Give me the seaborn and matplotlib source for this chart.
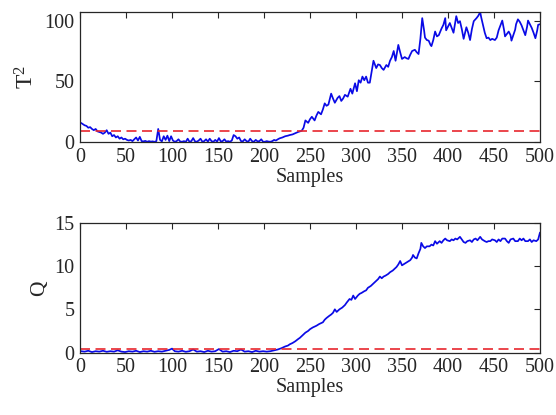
import matplotlib
matplotlib.use("Agg")
import matplotlib.pyplot as plt
import seaborn as sns
import pandas as pd

# ---------------- data ----------------
t2_samples = [1, 3, 5, 7, 9, 11, 13, 15, 17, 19, 21, 23, 25, 27, 29, 31, 33, 35, 37, 39,
              41, 43, 45, 47, 49, 51, 53, 55, 57, 59, 61, 63, 65, 67, 69, 71, 73, 75, 77, 79,
              81, 83, 85, 87, 89, 91, 93, 95, 97, 99, 101, 103, 105, 107, 109, 111, 113, 115, 117, 119,
              121, 123, 125, 127, 129, 131, 133, 135, 137, 139, 141, 143, 145, 147, 149, 151, 153, 155, 157, 159,
              161, 163, 165, 167, 169, 171, 173, 175, 177, 179, 181, 183, 185, 187, 189, 191, 193, 195, 197, 199,
              201, 203, 205, 207, 209, 211, 213, 215,
              217, 220, 223, 226, 228, 231, 234, 237, 241, 243, 245, 248, 250, 252, 255, 257, 259, 262, 264, 266,
              268, 270, 273, 275, 277, 280, 282, 284, 286, 288, 291, 294, 296, 299, 301, 303, 305, 307, 309, 311,
              313, 315, 317, 319, 322, 324, 326, 328, 330, 333, 335, 337, 339, 341, 343, 346, 348, 350, 353, 355,
              357, 359, 361, 364, 366, 368, 370, 372, 374, 375, 377, 379, 381, 382, 384, 386, 388, 390, 393, 395,
              397, 398, 400, 402, 404, 406, 409, 411, 413, 415, 417, 420, 422, 424, 426, 428, 431, 433, 435, 436,
              438, 440, 442, 444, 446, 448, 451, 453, 455, 457, 459, 461, 462, 464, 466, 468, 469, 471, 473, 474,
              476, 478, 480, 482, 484, 486, 487, 489, 491, 493, 495, 497, 498, 500]
t2_values = [16, 15, 14, 13.5, 12, 12.5, 11, 10, 11, 9, 8.5, 8, 7, 8, 10, 7, 8, 5, 6, 4,
             5, 3, 4, 2.5, 3, 2, 1.5, 2, 1, 2.5, 4, 1.5, 4.5, 1, 0.8, 1.2, 0.5, 1, 0.6, 0.8,
             0.4, 1, 11, 2, 0.8, 5, 2, 5.5, 1, 5, 1.5, 0.5, 1, 2.5, 0.6, 0.5, 1, 0.4, 3, 0.5,
             1, 3.5, 0.8, 0.5, 1.5, 3, 0.5, 1, 2.5, 0.6, 3, 1, 0.5, 2, 0.6, 3.5, 0.8, 1, 2.5, 0.6,
             1, 0.5, 1.5, 6, 5, 3, 4, 1, 0.8, 2.5, 1, 0.6, 3, 1, 0.5, 2, 0.8, 1, 2.5, 0.5,
             0.5, 1, 0.6, 0.5, 1, 2, 1.5, 2.5,
             3.3, 4, 5, 5.5, 6, 6.5, 7.5, 8.5, 9.5, 12, 18, 16, 19, 21, 18, 22, 25, 23, 27, 32,
             30, 31, 40, 36, 32.5, 36.5, 38, 34, 36, 39, 37.5, 44, 40, 48.5, 42, 51, 49, 54, 51, 54,
             49, 49, 58, 67, 61, 64, 63.5, 61, 59.5, 63.5, 62, 67, 70, 75, 67, 80, 74, 68.5, 70, 69,
             68.5, 72, 75, 76, 74, 72.5, 85, 102, 92, 86, 84, 83.5, 80, 79, 84, 91, 87, 88, 93.5, 96.5,
             102, 92, 95, 98, 94, 90, 103.6, 98, 99.5, 93, 85, 94.5, 90, 84, 93, 99.5, 102, 104, 107, 103,
             96.5, 90, 85.5, 86, 84, 85, 84, 86, 92, 96, 100, 92, 87, 89, 91, 88, 83.5, 88, 92.5, 97,
             101, 99, 96, 92, 88, 95, 100, 97, 94, 90, 85.5, 92, 96.5, 97]
t2_limit = 9.3

q_samples = [1, 5, 9, 13, 17, 21, 25, 29, 33, 37, 41, 45, 49, 53, 57, 61, 65, 69, 73, 77,
             81, 85, 89, 93, 97, 100, 103, 107, 111, 115, 119, 123, 127, 131, 135, 139, 143, 147, 151, 155,
             159, 163, 167, 171, 175, 179, 183, 187, 191, 195, 199, 203, 207, 211, 215, 219, 223, 226, 228, 231,
             234, 237, 239, 242, 245, 248, 250, 253, 255, 257, 260, 262, 264, 266, 268, 271, 273, 275, 277, 279,
             282, 285, 288, 290, 293, 295, 297, 299, 302, 304, 306, 309, 311, 313, 316, 319, 321, 324, 326, 328,
             330, 332, 335, 337, 340, 342, 344, 346, 348, 350, 353, 356, 359, 361, 362, 364, 366, 368, 370, 371,
             373, 375, 377, 380, 382, 384, 386, 388, 391, 393, 395, 397, 399, 402, 404, 406, 408, 410, 413, 415,
             417, 419, 421, 424, 426, 428, 430, 432, 435, 437, 440, 442, 444, 446, 448, 451, 453, 455, 457, 459,
             462, 464, 466, 468, 471, 473, 476, 478, 480, 482, 484, 487, 489, 491, 493, 496, 498, 500]
q_values = [0.15, 0.1, 0.2, 0.05, 0.15, 0.1, 0.2, 0.08, 0.15, 0.1, 0.25, 0.1, 0.05, 0.15, 0.1, 0.2, 0.05, 0.15, 0.1, 0.2,
            0.08, 0.15, 0.1, 0.2, 0.3, 0.45, 0.15, 0.1, 0.2, 0.08, 0.15, 0.35, 0.1, 0.15, 0.05, 0.2, 0.1, 0.15, 0.4, 0.1,
            0.15, 0.05, 0.2, 0.15, 0.35, 0.1, 0.15, 0.05, 0.2, 0.1, 0.15, 0.1, 0.15, 0.25, 0.35, 0.5, 0.7, 0.8, 0.95, 1.1,
            1.3, 1.55, 1.7, 2.0, 2.3, 2.5, 2.7, 2.9, 3.0, 3.1, 3.3, 3.4, 3.5, 3.8, 4.0, 4.25, 4.4, 4.6, 5.0, 4.7,
            5.0, 5.2, 5.5, 5.8, 6.2, 6.1, 6.6, 6.2, 6.6, 6.8, 6.9, 7.1, 7.2, 7.5, 7.7, 8.0, 8.2, 8.5, 8.8, 8.6,
            8.8, 8.9, 9.1, 9.3, 9.5, 9.7, 9.9, 10.2, 10.6, 10.1, 10.3, 10.5, 10.7, 11.0, 11.3, 11.0, 10.9, 11.5, 12.0, 12.7,
            12.3, 12.1, 12.3, 12.3, 12.5, 12.4, 12.9, 12.6, 12.9, 12.7, 13.0, 13.2, 13.0, 12.9, 13.1, 13.0, 13.2, 13.1, 13.4, 13.1,
            12.8, 12.7, 12.9, 13.0, 12.8, 13.1, 13.2, 13.0, 13.4, 13.1, 12.9, 12.8, 12.9, 12.9, 13.1, 13.0, 12.8, 13.1, 12.9, 13.2,
            13.2, 12.9, 12.7, 13.1, 13.2, 12.9, 12.9, 13.2, 13.0, 13.2, 12.9, 12.9, 13.1, 12.8, 13.0, 12.9, 13.1, 13.9]
q_limit = 0.35

x_ticks = [0, 50, 100, 150, 200, 250, 300, 350, 400, 450, 500]
t2_ticks = [0, 50, 100]
q_ticks = [0, 5, 10, 15]

# ---------------- style ----------------
sns.set_theme(style="white")
plt.rcParams['font.family'] = ['Liberation Serif', 'DejaVu Serif']
plt.rcParams['mathtext.fontset'] = 'custom'
plt.rcParams['mathtext.rm'] = 'Liberation Serif'
plt.rcParams['mathtext.it'] = 'Liberation Serif'
plt.rcParams['mathtext.default'] = 'regular'

FS = 14.5
EDGE = '#262626'
BLUE = '#0a0ae6'
RED = '#e8262e'

fig = plt.figure(figsize=(5.56, 4.15), dpi=100)
ax1 = fig.add_axes([0.1439, 0.657, 0.8273, 0.314])
ax2 = fig.add_axes([0.1439, 0.1506, 0.8273, 0.312])

df_t2 = pd.DataFrame({'Samples': t2_samples, 'T2': t2_values})
df_q = pd.DataFrame({'Samples': q_samples, 'Q': q_values})

sns.lineplot(data=df_t2, x='Samples', y='T2', ax=ax1, color=BLUE, lw=1.25,
             estimator=None, sort=False)
ax1.axhline(t2_limit, color=RED, lw=1.2, linestyle=(0, (6, 3.3)))
sns.lineplot(data=df_q, x='Samples', y='Q', ax=ax2, color=BLUE, lw=1.25,
             estimator=None, sort=False)
ax2.axhline(q_limit, color=RED, lw=1.2, linestyle=(0, (6, 3.3)))

for ax, yt, ylim, ylab, yfs in [(ax1, t2_ticks, (0, 107), 'T$^2$', 17),
                                (ax2, q_ticks, (0, 15), 'Q', 15.5)]:
    ax.set_xlim(0, 500)
    ax.set_ylim(*ylim)
    ax.set_xticks(x_ticks)
    ax.set_yticks(yt)
    ax.tick_params(direction='in', top=True, right=True, length=4, width=0.8,
                   colors=EDGE, labelcolor='#262626', labelsize=FS, pad=4)
    for s in ax.spines.values():
        s.set_color(EDGE)
        s.set_linewidth(0.9)
    ax.set_xlabel('Samples', fontsize=FS, color='#262626', labelpad=1)
    ax.set_ylabel(ylab, fontsize=yfs, color='#262626', labelpad=4)

fig.savefig('out.png', dpi=100, facecolor='white')
